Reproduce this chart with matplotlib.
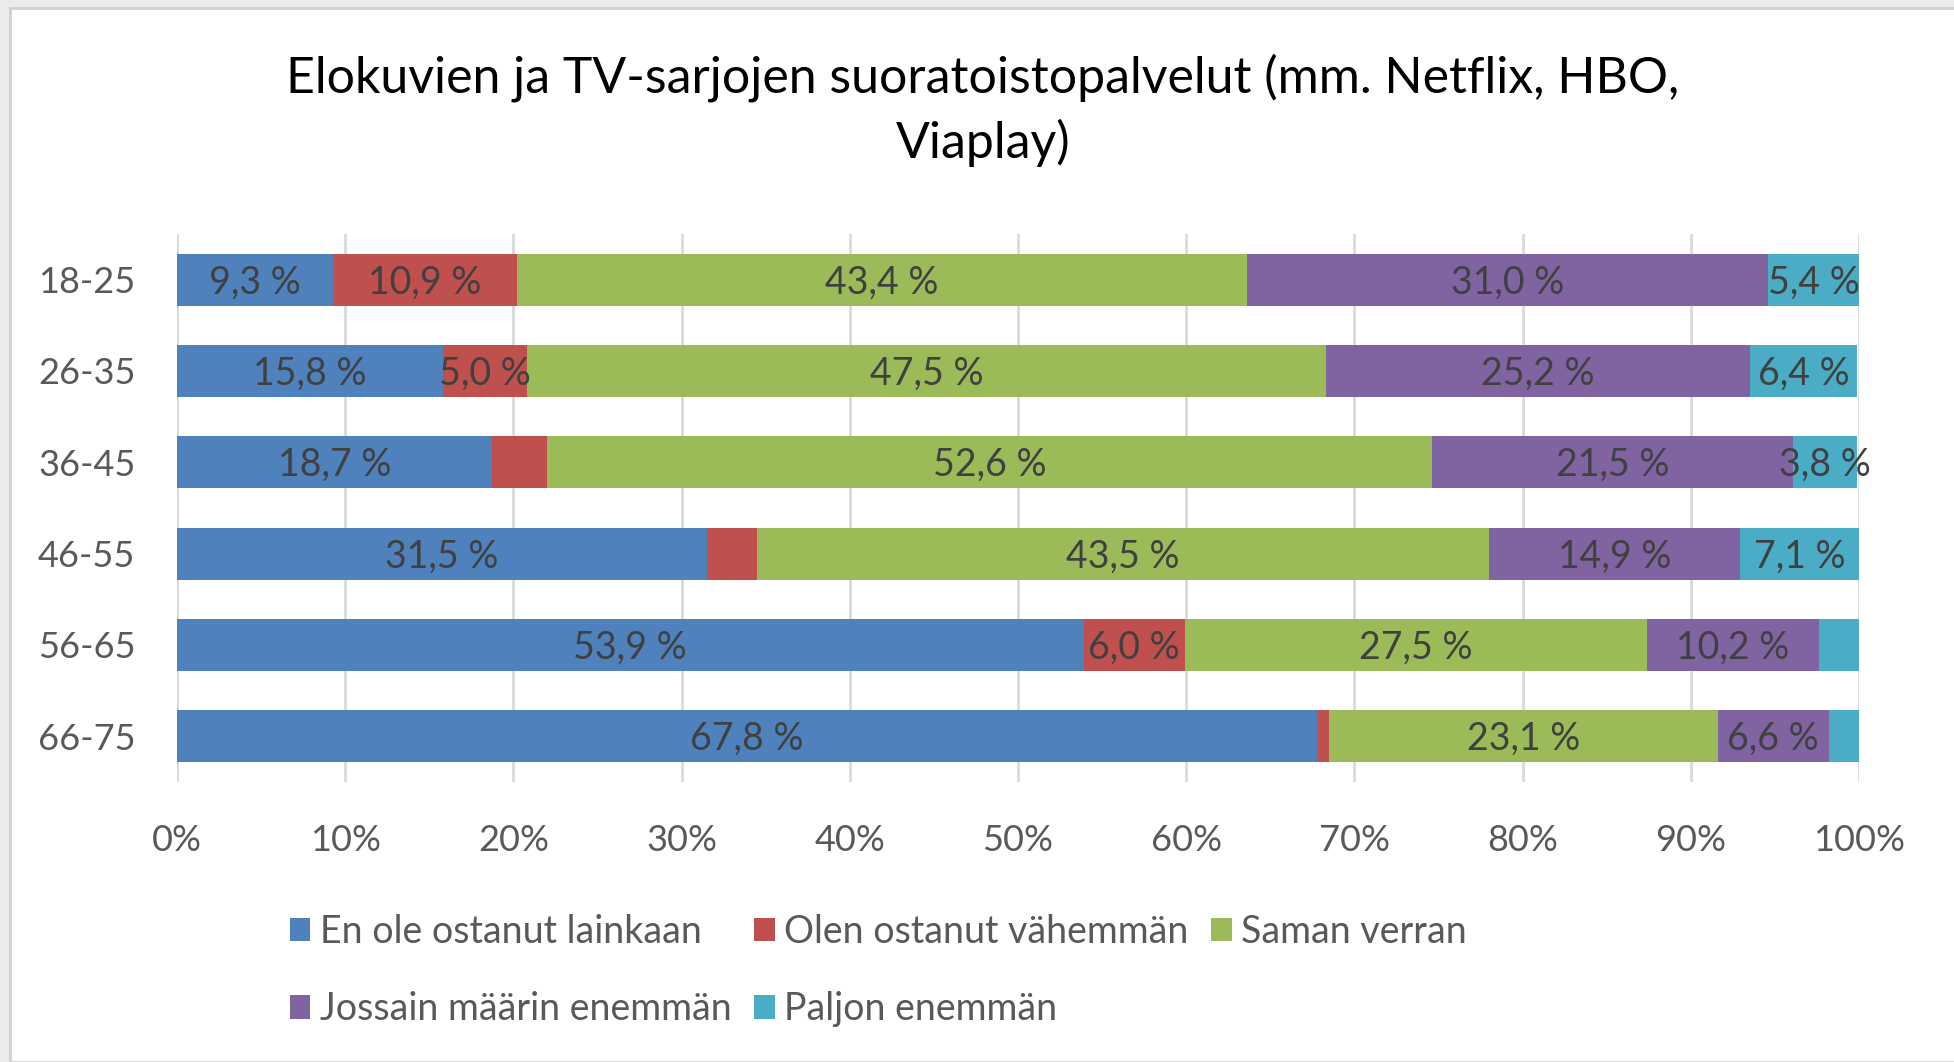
"""Stacked 100 % bar chart: streaming service purchases by age group."""

import matplotlib
matplotlib.use("Agg")
import matplotlib.pyplot as plt
from matplotlib.patches import Rectangle

plt.rcParams["font.family"] = ["Lato", "DejaVu Sans"]

# data (percent of respondents per age group)
age_groups = ["18-25", "26-35", "36-45", "46-55", "56-65", "66-75"]
series_names = [
    "En ole ostanut lainkaan",
    "Olen ostanut vähemmän",
    "Saman verran",
    "Jossain määrin enemmän",
    "Paljon enemmän",
]
en_ole = [9.3, 15.8, 18.7, 31.5, 53.9, 67.8]
vahemman = [10.9, 5.0, 3.3, 3.0, 6.0, 0.7]
saman = [43.4, 47.5, 52.6, 43.5, 27.5, 23.1]
jossain = [31.0, 25.2, 21.5, 14.9, 10.2, 6.6]
paljon = [5.4, 6.4, 3.8, 7.1, 2.4, 1.8]
# segments that carry a data label in the original
show_label = [
    [True, True, True, True, True, True],
    [True, True, False, False, True, False],
    [True, True, True, True, True, True],
    [True, True, True, True, True, True],
    [True, True, True, True, False, False],
]

colors = ["#4F81BD", "#C0504D", "#9BBB59", "#8064A2", "#4BACC6"]
text_col = "#404040"
axis_col = "#595959"

fig = plt.figure(figsize=(19.54, 10.62), dpi=100)
fig.patch.set_facecolor("#EBEBEB")
fig.patches.append(Rectangle((10 / 1954, 0), 1, 1 - 8 / 1062, transform=fig.transFigure,
                             facecolor="white", edgecolor="#D0D0D0", linewidth=2, zorder=-1))

ax = fig.add_axes([177 / 1954, 1 - 782 / 1062, (1859 - 177) / 1954, (782 - 234) / 1062])
ax.set_facecolor("none")

series = [en_ole, vahemman, saman, jossain, paljon]
y = list(range(len(age_groups)))
left = [0.0] * len(age_groups)
for i, vals in enumerate(series):
    bars = ax.barh(y, vals, left=left, height=0.57, color=colors[i],
                   label=series_names[i], zorder=2)
    for j, b in enumerate(bars):
        if show_label[i][j]:
            ax.text(left[j] + vals[j] / 2, y[j] + 0.03, f"{vals[j]:.1f} %".replace(".", ","),
                    ha="center", va="center", fontsize=27, color=text_col, zorder=3)
    left = [l + v for l, v in zip(left, vals)]

ax.set_xlim(0, 100)
ax.set_ylim(5.5, -0.5)
ax.set_yticks(y)
ax.set_yticklabels(age_groups)
ax.set_xticks(range(0, 101, 10))
ax.set_xticklabels([f"{t}%" for t in range(0, 101, 10)])
ax.tick_params(axis="both", length=0, labelsize=26, labelcolor=axis_col)
ax.tick_params(axis="x", pad=30)
ax.tick_params(axis="y", pad=30)
ax.grid(axis="x", color="#D9D9D9", linewidth=2, zorder=0)
for s in ax.spines.values():
    s.set_visible(False)

fig.text(0.503, 1 - 78 / 1062, "Elokuvien ja TV-sarjojen suoratoistopalvelut (mm. Netflix, HBO,",
         ha="center", va="center", fontsize=36, color="black")
fig.text(0.503, 1 - 143 / 1062, "Viaplay)", ha="center", va="center", fontsize=36, color="black")

handles, labels = ax.get_legend_handles_labels()
order = [0, 3, 1, 4, 2]
fig.legend([handles[k] for k in order], [labels[k] for k in order], ncol=3,
           loc="upper left", bbox_to_anchor=(256 / 1954, 1 - 880 / 1062), frameon=False,
           fontsize=27, labelcolor=axis_col, handlelength=0.55, handleheight=0.6,
           handletextpad=0.25, columnspacing=0.6, labelspacing=1.1)

fig.savefig("out.png", dpi=100, facecolor=fig.get_facecolor())
